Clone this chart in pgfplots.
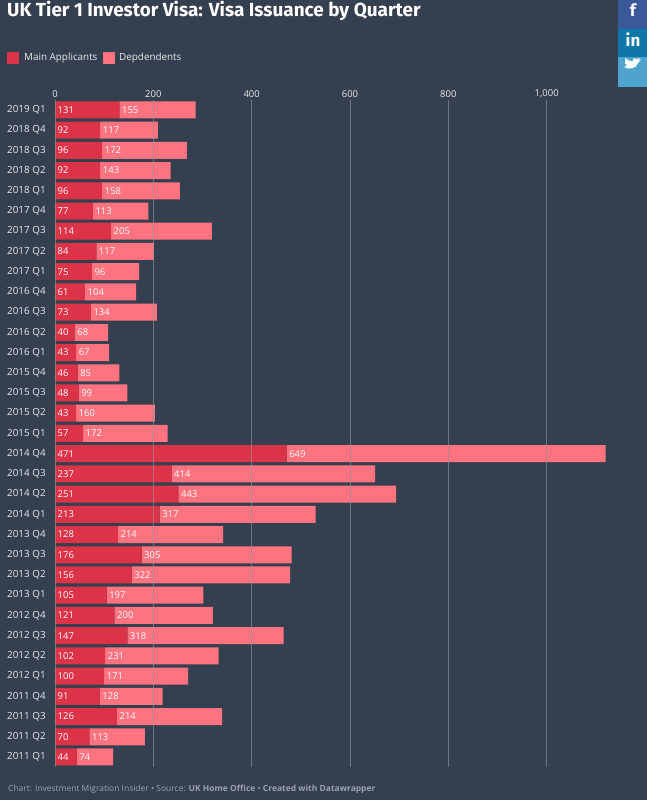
\documentclass[border=0pt]{standalone}
\usepackage{pgfplots}
\usepackage{pgfplotstable}
\usepackage{fontspec}
\setmainfont{Open Sans}
\newfontfamily\titlefont{Fira Sans}
\pgfplotsset{compat=1.18}
\definecolor{bg}{HTML}{343F4F}
\definecolor{mainc}{HTML}{DC3349}
\definecolor{depc}{HTML}{FD7480}
\definecolor{txt}{HTML}{E8EAEC}
\definecolor{foot}{HTML}{9AA3AE}
\definecolor{fb}{HTML}{3B5998}
\definecolor{li}{HTML}{0E76A8}
\definecolor{tw}{HTML}{4FA3CF}
\pgfplotstableread{
y label main dep
32 2019Q1 131 155
31 2018Q4 92 117
30 2018Q3 96 172
29 2018Q2 92 143
28 2018Q1 96 158
27 2017Q4 77 113
26 2017Q3 114 205
25 2017Q2 84 117
24 2017Q1 75 96
23 2016Q4 61 104
22 2016Q3 73 134
21 2016Q2 40 68
20 2016Q1 43 67
19 2015Q4 46 85
18 2015Q3 48 99
17 2015Q2 43 160
16 2015Q1 57 172
15 2014Q4 471 649
14 2014Q3 237 414
13 2014Q2 251 443
12 2014Q1 213 317
11 2013Q4 128 214
10 2013Q3 176 305
9 2013Q2 156 322
8 2013Q1 105 197
7 2012Q4 121 200
6 2012Q3 147 318
5 2012Q2 102 231
4 2012Q1 100 171
3 2011Q4 91 128
2 2011Q3 126 214
1 2011Q2 70 113
0 2011Q1 44 74
}\visa
\pgfplotsset{visaaxis/.style={
  at={(55bp,32.9bp)}, anchor=south west,
  scale only axis, width=555.6bp, height=667.3bp,
  xmin=0, xmax=1130, ymin=-0.5, ymax=32.5,
}}
\begin{document}
\begin{tikzpicture}[x=1bp,y=1bp]
\fill[bg] (0,0) rectangle (647,800);
\useasboundingbox (0,0) rectangle (647,800);
\fill[fb] (618,800) rectangle (647,771);
\fill[li] (618,771) rectangle (647,743);
\fill[tw] (618,743) rectangle (647,713);
\node[white,font=\titlefont\bfseries\fontsize{17}{17}\selectfont] at (633,790) {f};
\node[white,font=\titlefont\bfseries\fontsize{17}{17}\selectfont] at (633,760) {in};
% twitter bird
\fill[white] (624,733) .. controls (629,730) and (636,731) .. (638,737)
  .. controls (639,738) and (640,739) .. (641,740.5)
  .. controls (640,740) and (639,740) .. (638.5,740)
  .. controls (639.5,741) and (640,741.5) .. (640,742)
  .. controls (639,741.5) and (638,741) .. (637.5,741)
  .. controls (636,742.5) and (632.5,742) .. (632.5,738.5)
  .. controls (630,738.5) and (627,740) .. (625.5,742)
  .. controls (624.5,740) and (625,738.5) .. (626,737.5)
  .. controls (625.5,737.5) and (625,737.5) .. (624.8,738)
  .. controls (624.8,736.5) and (625.5,735.5) .. (627,735)
  .. controls (626.5,734.5) and (625.5,733.5) .. (624,733) -- cycle;
\node[anchor=west,inner sep=0pt,white,font=\titlefont\bfseries\fontsize{19}{19}\selectfont] at (7,789) {UK Tier 1 Investor Visa: Visa Issuance by Quarter};
\fill[mainc] (7,736) rectangle (19,748);
\node[anchor=west,inner sep=0pt,txt,font=\fontsize{9.9}{10}\selectfont] at (24,742) {Main Applicants};
\fill[depc] (103,736) rectangle (115,748);
\node[anchor=west,inner sep=0pt,txt,font=\fontsize{9.9}{10}\selectfont] at (119,742) {Depdendents};
\node[anchor=west,inner sep=0pt,foot,font=\fontsize{8.5}{9}\selectfont] at (8,11) {Chart: Investment Migration Insider • Source: \textbf{UK Home Office} • \textbf{Created with Datawrapper}};
\begin{axis}[visaaxis,
  xbar stacked, bar width=17bp, bar shift=0pt,
  axis line style={draw=none}, major tick style={draw=none},
  axis on top,
  xmajorgrids, major grid style={draw=gray!85,opacity=.65,line width=.8pt},
  xtick={0,200,400,600,800,1000},
  xticklabels={0,200,400,600,800,{1,000}},
  xticklabel pos=upper,
  xticklabel style={text=txt,font=\fontsize{9.5}{10}\selectfont,yshift=-1pt},
  ytick={0,...,32},
  yticklabels={2011 Q1,2011 Q2,2011 Q3,2011 Q4,2012 Q1,2012 Q2,2012 Q3,2012 Q4,2013 Q1,2013 Q2,2013 Q3,2013 Q4,2014 Q1,2014 Q2,2014 Q3,2014 Q4,2015 Q1,2015 Q2,2015 Q3,2015 Q4,2016 Q1,2016 Q2,2016 Q3,2016 Q4,2017 Q1,2017 Q2,2017 Q3,2017 Q4,2018 Q1,2018 Q2,2018 Q3,2018 Q4,2019 Q1},
  yticklabel style={text=txt,font=\fontsize{9.9}{10}\selectfont,anchor=west,inner sep=0pt,xshift=-48bp},
  /pgf/number format/assume math mode=true,
]
\addplot[fill=mainc,draw=none] table[x=main,y=y]{\visa};
\addplot[fill=depc,draw=none] table[x=dep,y=y]{\visa};
\end{axis}
\begin{axis}[visaaxis, hide axis,
  nodes near coords, point meta=explicit,
  nodes near coords style={anchor=west,text=white,font=\fontsize{9.5}{10}\selectfont,inner sep=0pt,xshift=2.5pt},
  /pgf/number format/assume math mode=true,
]
\addplot[draw=none,mark=none] table[x expr=0,y=y,meta=main]{\visa};
\addplot[draw=none,mark=none] table[x=main,y=y,meta=dep]{\visa};
\end{axis}
\end{tikzpicture}
\end{document}
